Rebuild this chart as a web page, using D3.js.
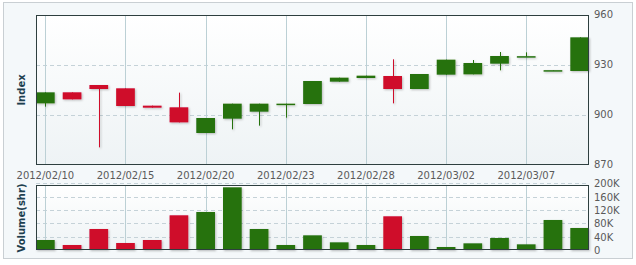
<!DOCTYPE html>
<html><head><meta charset="utf-8">
<script src="https://cdn.jsdelivr.net/npm/d3@7"></script>
<style>
html,body{margin:0;padding:0;background:#fff;}
svg{display:block;}
text{font-family:"DejaVu Sans",Verdana,sans-serif;}
</style></head><body>
<svg id="c" width="636" height="265"></svg>
<script>
const dates = ["2012/02/10","2012/02/13","2012/02/14","2012/02/15","2012/02/16","2012/02/17","2012/02/20","2012/02/21","2012/02/22","2012/02/23","2012/02/24","2012/02/27","2012/02/28","2012/02/29","2012/03/01","2012/03/02","2012/03/05","2012/03/06","2012/03/07","2012/03/08","2012/03/09"];
const open  = [907.0,913.6,918.0,916.0,905.6,904.6,889.2,897.8,902.0,906.4,906.6,920.0,922.2,923.4,915.6,924.2,924.4,930.8,935.0,926.6,926.4];
const high  = [913.6,913.6,918.0,916.0,905.6,913.4,898.2,906.8,906.8,906.8,920.4,922.4,923.6,933.4,924.6,933.2,933.0,937.8,937.6,926.9,946.6];
const low   = [905.0,909.4,880.6,905.4,904.4,895.6,889.2,891.4,893.6,898.4,906.6,920.0,922.2,907.0,915.6,924.2,924.4,926.8,935.0,926.6,926.4];
const close = [913.6,909.4,915.6,905.4,904.4,895.6,898.2,906.8,906.8,906.8,920.4,922.4,923.6,915.6,924.6,933.2,931.2,935.4,935.3,926.9,946.6];
const volume = [30000,15000,63000,21000,30000,104000,114000,188000,63000,15000,44000,23000,15000,101000,42000,9000,20000,36000,17000,90000,66000];
const priceTicks = [870,900,930,960];
const volTicks = [0,40000,80000,120000,160000,200000];
const labelIdx = [0,3,6,9,12,15,18];

const GREEN = "#27720f", RED = "#cf0a2c";
const svg = d3.select("#c");
const defs = svg.append("defs");
const g1 = defs.append("linearGradient").attr("id","bg").attr("x1",0).attr("y1",0).attr("x2",0).attr("y2",1);
g1.append("stop").attr("offset","0%").attr("stop-color","#ffffff");
g1.append("stop").attr("offset","100%").attr("stop-color","#eef3f5");
const f = defs.append("filter").attr("id","sh").attr("x","-20%").attr("y","-20%").attr("width","150%").attr("height","150%");
f.append("feDropShadow").attr("dx",1).attr("dy",1).attr("stdDeviation",1).attr("flood-color","#000").attr("flood-opacity",0.25);

// outer frame
svg.append("rect").attr("x",3.5).attr("y",2.5).attr("width",629).attr("height",256)
  .attr("fill","#f4f8fa").attr("stroke","#c9cfd3");

const L = 36, R = 589;
const x = d3.scaleBand().domain(d3.range(dates.length)).range([L,R]).paddingInner(0.3).paddingOuter(0);
const y = d3.scaleLinear().domain([870,960]).range([165,15]);
const yv = d3.scaleLinear().domain([0,200000]).range([250,183.3]);

function panel(top, bottom){
  svg.append("rect").attr("x",L).attr("y",top).attr("width",R-L).attr("height",bottom-top).attr("fill","url(#bg)");
}
panel(15,165); panel(185,250);

// horizontal grid
svg.append("g").selectAll("line").data(priceTicks.filter(v=>v>870&&v<960)).join("line")
  .attr("x1",L).attr("x2",R).attr("y1",d=>y(d)+0.5).attr("y2",d=>y(d)+0.5)
  .attr("stroke","#c5d2d8").attr("stroke-dasharray","4,3");
svg.append("g").selectAll("line").data(volTicks.filter(v=>v>0)).join("line")
  .attr("x1",L).attr("x2",R).attr("y1",d=>Math.round(yv(d))+0.5).attr("y2",d=>Math.round(yv(d))+0.5)
  .attr("stroke","#c5d2d8").attr("stroke-dasharray","4,3");
// vertical grid
const cx = i => x(i)+x.bandwidth()/2;
[[15,165],[185,250]].forEach(([t,b])=>{
  svg.append("g").selectAll("line").data(labelIdx).join("line")
    .attr("x1",d=>Math.round(cx(d))+0.5).attr("x2",d=>Math.round(cx(d))+0.5).attr("y1",t).attr("y2",b)
    .attr("stroke","#bcd0d5");
});

// candles
const cg = svg.append("g").attr("filter","url(#sh)");
dates.forEach((d,i)=>{
  const up = close[i] >= open[i];
  const col = up ? GREEN : RED;
  const c = Math.round(cx(i))+0.5;
  cg.append("line").attr("x1",c).attr("x2",c).attr("y1",y(high[i])).attr("y2",y(low[i])).attr("stroke",col).attr("stroke-width",1);
  const top = y(Math.max(open[i],close[i])), bot = y(Math.min(open[i],close[i]));
  cg.append("rect").attr("x",x(i)).attr("y",top).attr("width",x.bandwidth()).attr("height",Math.max(1.5,bot-top)).attr("fill",col);
});
// volume bars
svg.append("g").attr("filter","url(#sh)").selectAll("rect").data(volume).join("rect")
  .attr("x",(d,i)=>x(i)).attr("width",x.bandwidth())
  .attr("y",d=>yv(d)).attr("height",d=>yv(0)-yv(d))
  .attr("fill",(d,i)=>close[i]>=open[i]?GREEN:RED);

// plot borders
[[15,165],[185,250]].forEach(([t,b])=>{
  svg.append("rect").attr("x",L+0.5).attr("y",t+0.5).attr("width",R-L-1).attr("height",b-t-1)
    .attr("fill","none").attr("stroke","#2e3f3f");
});

// axes labels
const yAxis = d3.axisRight(y).tickValues(priceTicks).tickSize(0).tickPadding(5);
const ga = svg.append("g").attr("transform",`translate(${R},0)`).call(yAxis);
ga.select(".domain").remove();
ga.selectAll("text").attr("fill","#5a5a5a").style("font-size","10px").attr("dy","0.25em");
const vAxis = d3.axisRight(yv).tickValues(volTicks).tickSize(0).tickPadding(5).tickFormat(d=>d===0?"0":(d/1000)+"K");
const gv = svg.append("g").attr("transform",`translate(${R},0)`).call(vAxis);
gv.select(".domain").remove();
gv.selectAll("text").attr("fill","#5a5a5a").style("font-size","10px").attr("dy","0.35em");

const xAxis = d3.axisBottom(x).tickValues(labelIdx).tickSize(0).tickPadding(0).tickFormat(i=>dates[i]);
const gx = svg.append("g").attr("transform","translate(0,170)").call(xAxis);
gx.select(".domain").remove();
gx.selectAll("text").attr("fill","#5a5a5a").style("font-size","10px").attr("dy","0.85em");

svg.append("text").attr("transform","translate(25,90) rotate(-90)").attr("text-anchor","middle")
  .attr("fill","#1d3f4f").style("font-size","10px").style("font-weight","bold").text("Index");
svg.append("text").attr("transform","translate(25,218) rotate(-90)").attr("text-anchor","middle")
  .attr("fill","#1d3f4f").style("font-size","10px").style("font-weight","bold").text("Volume(shr)");
</script></body></html>
